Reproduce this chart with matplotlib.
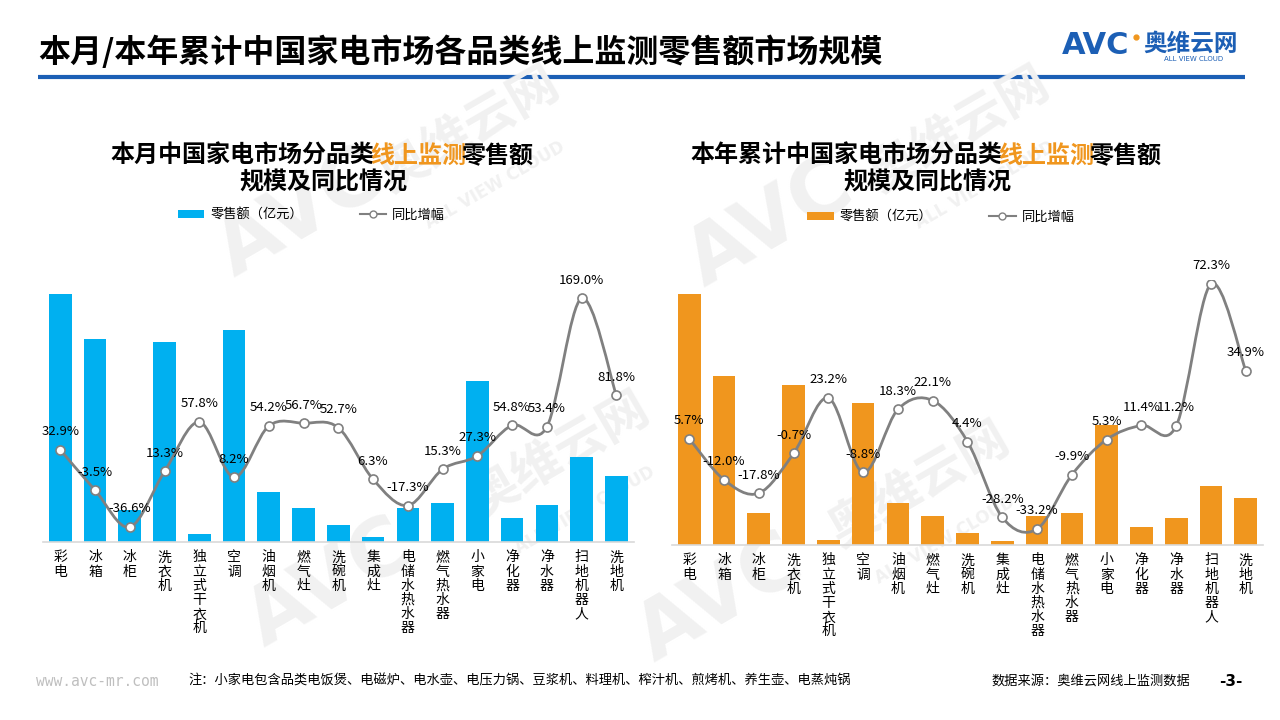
import numpy as np
import matplotlib
matplotlib.use('Agg')
import matplotlib.pyplot as plt
from matplotlib.path import Path
from matplotlib.patches import PathPatch, Patch
from matplotlib.lines import Line2D

plt.rcParams['font.family'] = ['Noto Sans CJK SC', 'DejaVu Sans']

# 品类
categories = ['彩电', '冰箱', '冰柜', '洗衣机', '独立式干衣机', '空调', '油烟机', '燃气灶',
              '洗碗机', '集成灶', '电储水热水器', '燃气热水器', '小家电', '净化器',
              '净水器', '扫地机器人', '洗地机']

# 本月 零售额(亿元, 估读) 和 同比
month_sales = [62.0, 50.8, 8.0, 50.0, 2.0, 53.0, 12.5, 8.5, 4.3, 1.3, 8.5, 9.8,
               40.3, 6.0, 9.3, 21.3, 16.5]
month_yoy = [32.9, -3.5, -36.6, 13.3, 57.8, 8.2, 54.2, 56.7, 52.7, 6.3, -17.3, 15.3,
             27.3, 54.8, 53.4, 169.0, 81.8]

# 本年累计 零售额(亿元, 估读) 和 同比
ytd_sales = [627.5, 422.5, 80.0, 400.0, 12.5, 355.0, 105.0, 72.5, 30.0, 10.0, 72.5, 80.0,
             300.0, 45.0, 67.5, 147.5, 117.5]
ytd_yoy = [5.7, -12.0, -17.8, -0.7, 23.2, -8.8, 18.3, 22.1, 4.4, -28.2, -33.2, -9.9,
           5.3, 11.4, 11.2, 72.3, 34.9]

BLUE = '#00B0F0'
ORANGE = '#F0961E'
LOGO_BLUE = '#1C5FB5'
LINE_GREY = '#808080'


def smooth_path(xs, ys):
    # Catmull-Rom 曲线转成贝塞尔控制点
    pts = np.column_stack([xs, ys]).astype(float)
    n = len(pts)
    verts = [pts[0]]
    codes = [Path.MOVETO]
    for i in range(n - 1):
        p0 = pts[max(i - 1, 0)]
        p1 = pts[i]
        p2 = pts[i + 1]
        p3 = pts[min(i + 2, n - 1)]
        verts += [p1 + (p2 - p0) / 6, p2 - (p3 - p1) / 6, p2]
        codes += [Path.CURVE4] * 3
    return Path(np.array(verts), codes)


def draw_chart(ax, sales, yoy, color, bar_top, line_lim):
    x = np.arange(len(categories))
    ax.bar(x, sales, width=0.65, color=color, zorder=2)
    ax.set_xlim(-0.5, len(categories) - 0.5)
    ax.set_ylim(0, bar_top)
    ax.set_facecolor('none')

    ax2 = ax.twinx()
    ax2.set_ylim(*line_lim)
    ax2.axis('off')
    ax2.add_patch(PathPatch(smooth_path(x, yoy), fill=False, edgecolor=LINE_GREY, lw=2, zorder=3))
    ax2.plot(x, yoy, ls='none', marker='o', ms=6.5, mfc='white', mec=LINE_GREY, mew=1.2, zorder=4)
    for xi, v in zip(x, yoy):
        ax2.annotate(f'{v:.1f}%', (xi, v), xytext=(0, 13), textcoords='offset points',
                     ha='center', va='center', fontsize=9.5, color='black', zorder=5)

    ax.set_xticks(x)
    ax.set_xticklabels(['\n'.join(c) for c in categories], fontsize=10,
                       linespacing=1.02, color='black')
    ax.tick_params(axis='x', length=0, pad=6)
    ax.set_yticks([])
    for s in ['left', 'right', 'top']:
        ax.spines[s].set_visible(False)
    ax.spines['bottom'].set_color('#D9D9D9')
    ax.spines['bottom'].set_linewidth(1.2)


fig = plt.figure(figsize=(12.8, 7.2), dpi=100)
renderer = fig.canvas.get_renderer()

# 背景层: 水印、标题、页脚 (像素坐标)
bg = fig.add_axes([0, 0, 1, 1], zorder=-1)
bg.set_xlim(0, 1280)
bg.set_ylim(720, 0)
bg.axis('off')

wm = '#F1F1F1'
for ax_, ay, cx, cy in [(300, 215, 470, 130), (330, 585, 560, 455),
                        (770, 225, 960, 130), (720, 600, 920, 485)]:
    bg.text(ax_, ay, 'AVC', fontsize=58, fontweight='bold', color=wm,
            rotation=30, ha='center', va='center', family='DejaVu Sans')
    bg.text(cx, cy, '奥维云网', fontsize=36, fontweight='bold', color=wm,
            rotation=30, ha='center', va='center')
    bg.text(cx + 25, cy + 55, 'ALL VIEW CLOUD', fontsize=12, fontweight='bold', color=wm,
            rotation=30, ha='center', va='center', family='DejaVu Sans')

bg.text(38, 52, '本月/本年累计中国家电市场各品类线上监测零售额市场规模', fontsize=23,
        fontweight='bold', ha='left', va='center', color='black')
bg.plot([38, 1245], [77, 77], color=LOGO_BLUE, lw=3, solid_capstyle='butt')

# logo
bg.text(1062, 45, 'AVC', fontsize=22, fontweight='heavy', color=LOGO_BLUE,
        ha='left', va='center', family='DejaVu Sans')
bg.plot(1136, 37, 'o', color=ORANGE, ms=3.5)
bg.text(1143, 44, '奥维云网', fontsize=17, fontweight='bold', color=LOGO_BLUE,
        ha='left', va='center')
bg.text(1194, 59, 'ALL VIEW CLOUD', fontsize=5, color=LOGO_BLUE, ha='center', va='center',
        family='DejaVu Sans')


def colored_title(cx, y, parts, size):
    # 先量出各段宽度, 再整体居中排布
    pieces = [bg.text(0, y, t, fontsize=size, fontweight='bold', color=c,
                      ha='left', va='center') for t, c in parts]
    widths = [p.get_window_extent(renderer).width for p in pieces]
    gap = -4.5
    x0 = cx - (sum(widths) + gap * (len(widths) - 1)) / 2
    for p, w in zip(pieces, widths):
        p.set_x(x0)
        x0 += w + gap


colored_title(322, 156, [('本月中国家电市场分品类', 'black'), ('线上监测', ORANGE),
                         ('零售额', 'black')], 17.3)
bg.text(323, 183, '规模及同比情况', fontsize=17.3, fontweight='bold', ha='center', va='center')
colored_title(926, 156, [('本年累计中国家电市场分品类', 'black'), ('线上监测', ORANGE),
                         ('零售额', 'black')], 17.3)
bg.text(927, 183, '规模及同比情况', fontsize=17.3, fontweight='bold', ha='center', va='center')

# 页脚
bg.text(36, 681, 'www.avc-mr.com', fontsize=10.5, color='#BFBFBF', ha='left', va='center',
        family='DejaVu Sans Mono')
bg.text(188, 681, '注：小家电包含品类电饭煲、电磁炉、电水壶、电压力锅、豆浆机、料理机、榨汁机、煎烤机、养生壶、电蒸炖锅',
        fontsize=9.5, ha='left', va='center', color='black')
bg.text(1190, 681, '数据来源：奥维云网线上监测数据', fontsize=9.5, ha='right', va='center',
        color='black')
bg.text(1231, 681, '-3-', fontsize=11, fontweight='bold', ha='center', va='center',
        family='DejaVu Sans')

# 两个图
ax_l = fig.add_axes([42.9 / 1280, 1 - 542 / 720, 590.8 / 1280, 262 / 720])
draw_chart(ax_l, month_sales, month_yoy, BLUE, 65.5, (-50.1, 185.5))

ax_r = fig.add_axes([671.8 / 1280, 1 - 545 / 720, 591.4 / 1280, 265 / 720])
draw_chart(ax_r, ytd_sales, ytd_yoy, ORANGE, 662.5, (-40.1, 74.0))

# 图例
for color, cx, cy in [(BLUE, 311.5, 215), (ORANGE, 941, 217)]:
    handles = [Patch(facecolor=color, edgecolor='none'),
               Line2D([], [], color=LINE_GREY, lw=1.5, marker='o', ms=5,
                      mfc='white', mec=LINE_GREY)]
    fig.legend(handles, ['零售额（亿元）', '同比增幅'], loc='center',
               bbox_to_anchor=(cx / 1280, 1 - cy / 720), ncol=2, frameon=False,
               fontsize=9.5, handlelength=2.0, handleheight=0.6, handletextpad=0.45,
               columnspacing=4.3)

fig.savefig('out.png', dpi=100)
